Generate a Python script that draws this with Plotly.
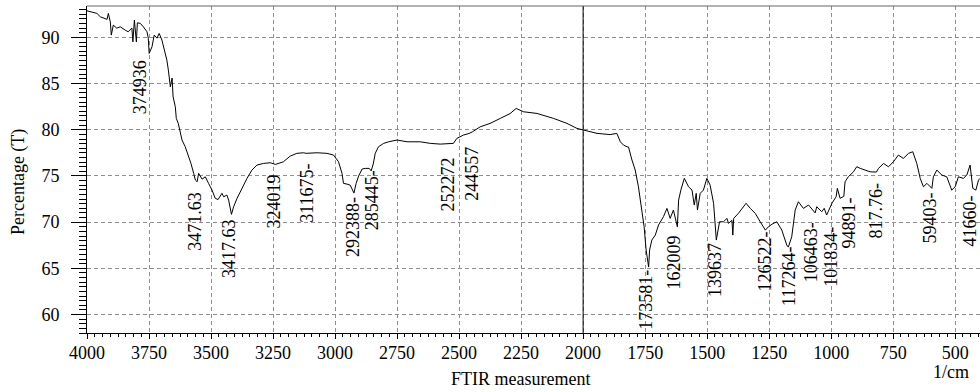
import plotly.graph_objects as go

# FTIR transmittance spectrum (wavenumber in 1/cm, transmittance in %)
wavenumber = [
    4000, 3960, 3946, 3919, 3914, 3906, 3902, 3894, 3880, 3866, 3846, 3834, 3819, 3815,
    3809, 3801, 3797, 3785, 3773, 3758, 3753, 3749.36, 3738, 3729, 3718, 3709, 3698,
    3684, 3678, 3672, 3664, 3657, 3653, 3644, 3640, 3632, 3617, 3604, 3590, 3581, 3570,
    3563, 3556, 3550, 3536, 3523, 3510, 3496, 3483, 3471.63, 3456, 3449, 3436, 3429,
    3417.63, 3409, 3395, 3375, 3355, 3335, 3315, 3288, 3261, 3240.19, 3208, 3181, 3154,
    3127, 3116.75, 3073, 3033, 3006, 2986, 2972, 2966, 2952, 2939, 2923.88, 2915, 2905,
    2891, 2878, 2862, 2854.45, 2846, 2838, 2825, 2804, 2784, 2750, 2710, 2657, 2616,
    2576, 2522.72, 2509, 2482, 2460, 2445.57, 2415, 2375, 2334, 2294, 2270, 2254, 2240,
    2186, 2119, 2065, 2025, 1998, 1944, 1891, 1864, 1850, 1837, 1823, 1817, 1803, 1790,
    1777, 1763, 1754, 1746, 1735.81, 1732, 1723, 1709, 1696, 1676, 1662, 1649, 1636,
    1620.09, 1615, 1606, 1592, 1575, 1561, 1552, 1544, 1539, 1528, 1515, 1501, 1488,
    1474, 1463, 1450, 1434, 1420, 1414, 1400, 1396.37, 1393, 1374, 1356, 1343, 1326,
    1306, 1286, 1265.22, 1253, 1238, 1219, 1199, 1179, 1172.64, 1159, 1145, 1132, 1112,
    1091, 1071, 1064.63, 1058, 1038, 1028, 1018.34, 1011, 997, 980, 975, 964, 948.91,
    944, 931, 910, 897, 883, 863, 843, 817.76, 809, 789, 769, 749, 729, 709, 688, 671,
    655, 641, 628, 614, 594.03, 588, 574, 554, 534, 514, 500, 487, 467, 453, 440, 429,
    416.60, 406, 400,
]
transmittance = [
    92.88, 92.60, 92.23, 91.95, 92.60, 91.69, 90.25, 91.33, 91.00, 91.15, 90.79, 90.61, 91.01, 89.52,
    91.87, 89.52, 91.58, 91.52, 91.15, 90.61, 89.92, 88.27, 88.98, 90.25, 89.92, 90.43, 89.71,
    88.27, 87.54, 86.46, 84.65, 85.60, 83.57, 82.49, 81.23, 80.69, 78.89, 78.16, 77.08, 76.36, 75.28,
    74.55, 74.37, 75.28, 74.66, 74.91, 74.20, 73.47, 72.58, 72.45, 73.12, 72.75, 72.93, 72.39,
    70.84, 71.66, 72.58, 73.66, 74.74, 75.64, 76.18, 76.36, 76.43, 76.25, 76.54, 77.15, 77.45,
    77.51, 77.45, 77.51, 77.45, 77.26, 76.54, 75.28, 74.20, 74.12, 74.01, 73.15, 74.20, 74.99,
    75.75, 75.82, 75.82, 75.55, 76.30, 77.45, 78.16, 78.53, 78.70, 78.89, 78.70, 78.70, 78.53,
    78.45, 78.53, 79.07, 79.43, 79.60, 79.79, 80.32, 80.69, 81.23, 81.76, 82.31, 82.13, 81.95,
    81.77, 81.23, 80.69, 80.15, 79.97, 79.61, 79.48, 79.61, 78.70, 78.34, 78.16, 78.13, 76.72, 75.64,
    73.83, 71.31, 69.50, 66.98, 65.14, 66.98, 68.06, 68.60, 69.69, 70.59, 71.49, 70.41, 71.31,
    69.50, 72.39, 73.47, 74.74, 73.83, 73.47, 71.85, 73.12, 71.31, 73.12, 73.47, 74.74, 74.01,
    72.04, 68.06, 70.04, 70.04, 70.41, 69.87, 70.20, 68.60, 70.41, 70.95, 71.66, 72.04, 71.49,
    70.95, 70.04, 69.14, 69.50, 69.79, 70.04, 69.14, 67.52, 67.30, 68.42, 71.31, 72.21, 71.49,
    71.85, 71.13, 71.00, 71.67, 71.13, 71.50, 70.77, 71.20, 72.04, 72.75, 73.66, 72.58, 72.80,
    74.37, 74.91, 75.45, 76.00, 75.82, 75.64, 75.45, 75.42, 75.82, 76.36, 75.99, 76.54, 77.26, 76.90, 77.45, 77.62,
    76.36, 74.74, 73.83, 74.20, 73.66, 74.91, 75.64, 75.10, 74.91, 73.47, 73.83, 74.91, 74.74, 75.10, 76.18, 73.66,
    73.47, 74.55, 74.74,
]

# Peak picks: wavenumber and the printed label
peak_wn = [3749.36, 3471.63, 3417.63, 3240.19, 3116.75, 2923.88, 2854.45, 2522.72, 2445.57,
           1735.81, 1620.09, 1396.37, 1265.22, 1172.64, 1064.63, 1018.34, 948.91, 817.76,
           594.03, 416.60]
peak_text = ["374936", "3471.63", "3417.63", "324019", "311675-", "292388-", "285445-",
             "252272", "244557", "173581-", "162009", "139637", "126522-", "117264-",
             "106463-", "101834-", "94891-", "817.76-", "59403-", "41660-"]

x_ticks = [4000, 3750, 3500, 3250, 3000, 2750, 2500, 2250, 2000, 1750, 1500, 1250, 1000, 750, 500]
y_ticks = [60, 65, 70, 75, 80, 85, 90]

# Where each rotated label ends (top, in % T) and its sideways nudge in px
label_top = [87.76, 73.47, 70.55, 75.42, 76.50, 72.93, 75.85, 77.26, 78.34,
             65.03, 68.82, 67.95, 69.25, 67.52, 70.23, 69.69, 72.93, 74.56,
             73.47, 73.15]
label_dx = [-9, -23, -3, -1, 1, -1, 1, -5, 0,
            -3, -3, -18, 0, 0, -4, 4, 5, 0,
            -2, -6]

SERIF = "Liberation Serif, Times New Roman, serif"

fig = go.Figure()
fig.add_trace(go.Scatter(
    x=wavenumber, y=transmittance, mode="lines",
    line=dict(color="black", width=1), hoverinfo="skip",
))

for wn, txt, top, dx in zip(peak_wn, peak_text, label_top, label_dx):
    fig.add_annotation(
        x=wn, y=top, text=txt, textangle=-90, showarrow=False,
        xanchor="center", yanchor="top", xshift=dx,
        font=dict(family=SERIF, size=18, color="black"),
    )

# Axis titles
fig.add_annotation(x=0, y=0.46, xref="paper", yref="paper", text="Percentage (T)",
                   textangle=-90, showarrow=False, xanchor="center", yanchor="middle",
                   xshift=-68.5, font=dict(family=SERIF, size=18, color="black"))
fig.add_annotation(x=0.486, y=0, xref="paper", yref="paper", text="FTIR measurement",
                   showarrow=False, xanchor="center", yanchor="middle", yshift=-46,
                   font=dict(family=SERIF, size=18, color="black"))
fig.add_annotation(x=0.967, y=0, xref="paper", yref="paper", text="1/cm",
                   showarrow=False, xanchor="center", yanchor="middle", yshift=-39,
                   font=dict(family=SERIF, size=18, color="black"))

# Divider at 2000 1/cm and the top frame line
fig.add_shape(type="line", x0=2000, x1=2000, y0=0, y1=1, xref="x", yref="paper",
              line=dict(color="black", width=1))
fig.add_shape(type="line", x0=0, x1=1, y0=1, y1=1, xref="paper", yref="paper",
              line=dict(color="#666666", width=1))

grid = dict(showgrid=True, gridcolor="#8f8f8f", gridwidth=1, griddash="4px,3px")

fig.update_xaxes(
    range=[4000, 400], tickmode="array", tickvals=x_ticks,
    ticktext=[str(t) for t in x_ticks],
    ticks="outside", ticklen=5, tickcolor="black", tickwidth=1,
    ticklabelstandoff=-2,
    showline=True, linecolor="black", linewidth=1, zeroline=False,
    minor=dict(ticks="outside", ticklen=3, tick0=4000, dtick=31.25,
               tickcolor="black", showgrid=False),
    tickfont=dict(family=SERIF, size=18, color="black"),
    **grid,
)
fig.update_yaxes(
    range=[58.0, 93.4], tickmode="array", tickvals=y_ticks,
    ticktext=[str(t) for t in y_ticks],
    ticks="outside", ticklen=15, tickcolor="black", tickwidth=1,
    ticklabelstandoff=8,
    showline=True, linecolor="black", linewidth=1, zeroline=False,
    minor=dict(ticks="outside", ticklen=7, tick0=58, dtick=0.5,
               tickcolor="black", showgrid=False),
    tickfont=dict(family=SERIF, size=18, color="black"),
    **grid,
)

fig.update_layout(
    width=980, height=392,
    margin=dict(l=87, r=0, t=6, b=59),
    paper_bgcolor="white", plot_bgcolor="white",
    showlegend=False,
    font=dict(family=SERIF, size=18, color="black"),
)

fig.write_html("out.html")
